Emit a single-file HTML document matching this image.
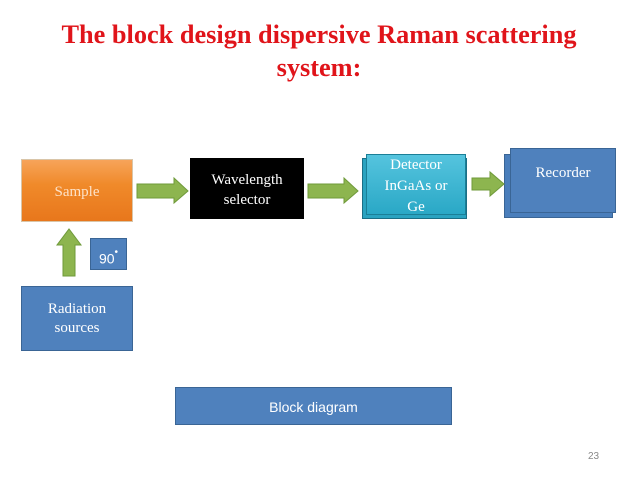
<!DOCTYPE html>
<html><head><style>
body{margin:0;width:638px;height:479px;background:#fff;position:relative;overflow:hidden;font-family:"Liberation Serif",serif}
.t{position:absolute;left:0;width:638px;text-align:center;color:#e0141a;font-weight:bold;font-size:26.3px}
.b{position:absolute;box-sizing:border-box;color:#fff;text-align:center;font-size:15px;line-height:19px}
</style></head><body>
<div class="t" style="top:20px">The block design dispersive Raman scattering</div>
<div class="t" style="top:53px">system:</div>

<div class="b" style="left:21px;top:159px;width:112px;height:63px;background:linear-gradient(#f7a45a,#f08a2a 40%,#e8771c);border:1px solid #d9c5a8;padding-top:23px;color:#fde2c8">Sample</div>
<div class="b" style="left:190px;top:158px;width:114px;height:61px;background:#000;padding-top:12px;line-height:20px">Wavelength<br>selector</div>

<div class="b" style="left:362px;top:158px;width:105px;height:61px;background:#2aa3c0;border:1px solid #1b6f86"></div>
<div class="b" style="left:366px;top:154px;width:100px;height:61px;background:linear-gradient(#55c4de,#2aa8c6);border:1px solid #1b7f97;padding-top:0px;line-height:21px;overflow:hidden">Detector<br>InGaAs or<br>Ge</div>

<div class="b" style="left:504px;top:154px;width:109px;height:64px;background:#4a7ebb;border:1px solid #3a6595"></div>
<div class="b" style="left:510px;top:148px;width:106px;height:65px;background:#4f81bd;border:1px solid #3a6595;padding-top:15px">Recorder</div>

<div class="b" style="left:90px;top:238px;width:37px;height:32px;background:#4f81bd;border:1px solid #3a6595;font-family:'Liberation Sans',sans-serif;font-size:14px;padding-top:7px;color:#fff">90<sup style="font-size:10px;position:relative;top:-3px">•</sup></div>
<div class="b" style="left:21px;top:286px;width:112px;height:65px;background:#4f81bd;border:1px solid #3a6595;padding-top:13px">Radiation<br>sources</div>

<div class="b" style="left:175px;top:387px;width:277px;height:38px;background:#4f81bd;border:1px solid #3a6595;font-family:'Liberation Sans',sans-serif;font-size:14px;padding-top:10px">Block diagram</div>
<div style="position:absolute;left:588px;top:451px;font-family:'Liberation Sans',sans-serif;font-size:10px;color:#888">23</div>

<svg style="position:absolute;left:0;top:0" width="638" height="479">
<g fill="#8db54f" stroke="#6f9a3a" stroke-width="1">
<polygon points="137,184 174,184 174,178 188,191 174,203 174,198 137,198"/>
<polygon points="308,184 344,184 344,178 358,191 344,203 344,198 308,198"/>
<polygon points="472,178 490,178 490,172 504,184 490,196 490,190 472,190"/>
<polygon points="63,276 63,245 57,245 69,229 81,245 75,245 75,276"/>
</g></svg>
</body></html>
